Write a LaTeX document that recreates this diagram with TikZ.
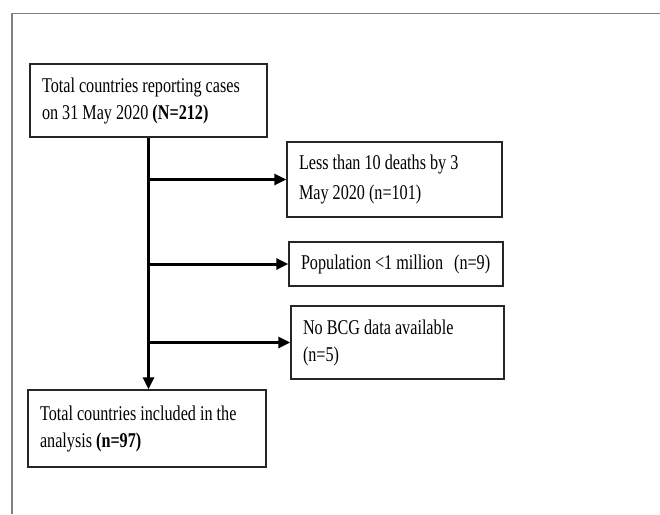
\documentclass[tikz,border=0pt]{standalone}
\usepackage{fontspec}
\setmainfont{Liberation Serif}[FakeStretch=0.77]
\usetikzlibrary{arrows.meta}
\newcommand{\boxfont}[1]{\fontsize{21}{#1}\selectfont}
\begin{document}
\begin{tikzpicture}[x=1pt,y=-1pt,
  box/.style={draw=black!85,line width=1.4pt,inner xsep=12pt,inner ysep=0pt,
    align=flush left,font=\boxfont{27},anchor=center},
  flow/.style={line width=3pt,-{Triangle[length=12pt,width=11pt]}},
  frame/.style={draw=black!50,line width=1.5pt}]
\useasboundingbox (0,0) rectangle (660,514);
\draw[frame] (12,514) -- (12,13.5) -- (660,13.5);
\node[box,minimum width=237pt,minimum height=73pt,text width=213pt] (b1) at (148.5,100.5)
  {Total countries reporting cases\\on 31 May 2020 \textbf{(N=212)}};
\node[box,minimum width=215pt,minimum height=75pt,text width=191pt,
  font=\boxfont{30}] (b2) at (394.5,179.5)
  {Less than 10 deaths by 3\\May 2020 (n=101)};
\node[box,minimum width=214pt,minimum height=44pt] (b3) at (396,264)
  {\makebox[190pt][l]{Population <1 million\hspace{7pt} (n=9)}};
\node[box,minimum width=213pt,minimum height=73pt,text width=189pt] (b5) at (397.5,342.5)
  {No BCG data available\\(n=5)};
\node[box,minimum width=238pt,minimum height=77pt,text width=214pt] (b4) at (147,428.5)
  {Total countries included in the\\analysis \textbf{(n=97)}};
\draw[flow] (b1.south) -- (b1.south |- b4.north);
\draw[flow] (b1.south |- b2.west) -- (b2.west);
\draw[flow] (b1.south |- b3.west) -- (b3.west);
\draw[flow] (b1.south |- b5.west) -- (b5.west);
\end{tikzpicture}
\end{document}
